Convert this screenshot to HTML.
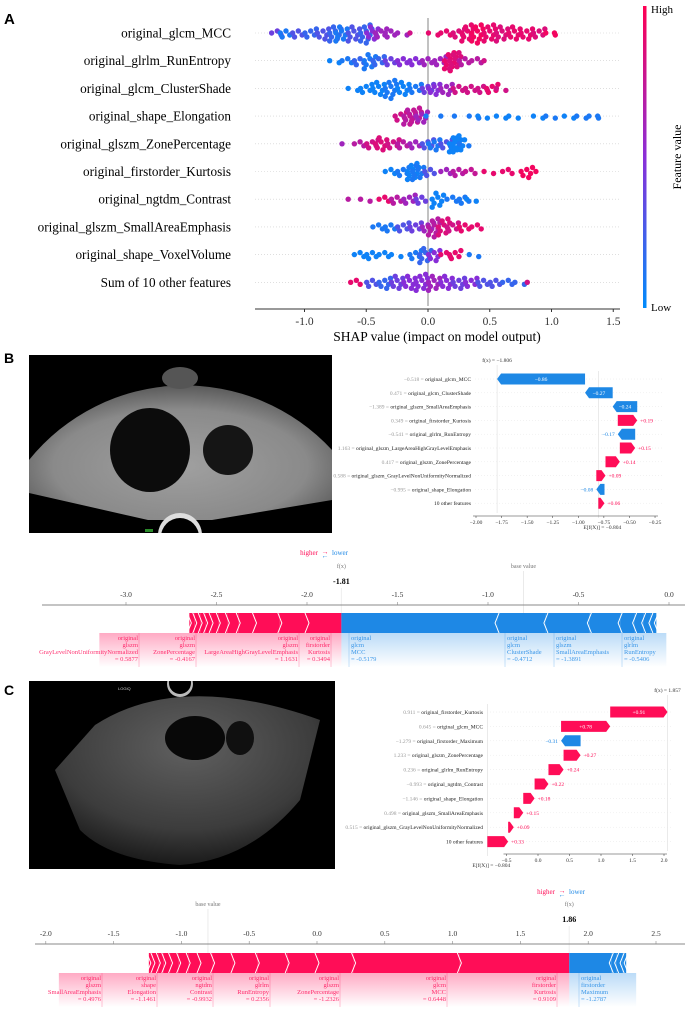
<!DOCTYPE html>
<html><head><meta charset="utf-8"><style>
html,body{margin:0;padding:0;background:#fff;}
svg{display:block;font-family:"Liberation Serif",serif;}
</style></head><body>
<svg id="fig" width="685" height="1009" viewBox="0 0 685 1009" xmlns="http://www.w3.org/2000/svg">
<defs>
<linearGradient id="cbar" x1="0" y1="1" x2="0" y2="0"><stop offset="0" stop-color="#008bfb"/><stop offset="0.5" stop-color="#8a2fd8"/><stop offset="1" stop-color="#ff0052"/></linearGradient>
<linearGradient id="pinkfade" x1="0" y1="0" x2="0" y2="1"><stop offset="0" stop-color="#ff0d57" stop-opacity="0.35"/><stop offset="1" stop-color="#ff0d57" stop-opacity="0"/></linearGradient>
<linearGradient id="bluefade" x1="0" y1="0" x2="0" y2="1"><stop offset="0" stop-color="#1e88e5" stop-opacity="0.3"/><stop offset="1" stop-color="#1e88e5" stop-opacity="0"/></linearGradient>
<radialGradient id="usg" cx="0.5" cy="0.6" r="0.6"><stop offset="0" stop-color="#a0a0a0"/><stop offset="0.7" stop-color="#8a8a8a"/><stop offset="1" stop-color="#5a5a5a"/></radialGradient>
<radialGradient id="usgc" cx="0.5" cy="0.3" r="0.7"><stop offset="0" stop-color="#606060"/><stop offset="0.7" stop-color="#3c3c3c"/><stop offset="1" stop-color="#1a1a1a"/></radialGradient>
<clipPath id="clipB"><rect x="29" y="355" width="303" height="178"/></clipPath>
</defs>

<!-- Panel A -->
<text x="4" y="24" font-family="Liberation Sans,sans-serif" font-size="15" font-weight="bold">A</text>
<g id="beeswarm"></g>
<rect x="643" y="6" width="3.5" height="302" fill="url(#cbar)"/>
<text x="651" y="13" font-size="11">High</text>
<text x="651" y="311" font-size="11">Low</text>
<text transform="translate(681,157) rotate(-90)" text-anchor="middle" font-size="12">Feature value</text>
<text x="437" y="341" text-anchor="middle" font-size="13.5">SHAP value (impact on model output)</text>

<!-- Panel B -->
<text x="4" y="363" font-family="Liberation Sans,sans-serif" font-size="14" font-weight="bold">B</text>
<g clip-path="url(#clipB)">
<rect x="29" y="355" width="303" height="178" fill="#000"/>
<path d="M29 460 A 200 200 0 0 1 332 450 L332 500 L212 520 L148 520 L29 493 Z" fill="url(#usg)"/>
<ellipse cx="150" cy="450" rx="40" ry="42" fill="#0c0c0c"/>
<ellipse cx="228" cy="450" rx="25" ry="25" fill="#151515"/>
<ellipse cx="180" cy="378" rx="18" ry="11" fill="#555"/>
<circle cx="180" cy="535" r="22" fill="#ddd"/>
<circle cx="180" cy="537" r="19" fill="#000"/>
<rect x="145" y="529" width="8" height="3" fill="#2a8a2a"/>
</g>
<g id="wfB"></g>
<g id="fpB"></g>

<!-- Panel C -->
<text x="4" y="695" font-family="Liberation Sans,sans-serif" font-size="14" font-weight="bold">C</text>
<g>
<rect x="29" y="681" width="306" height="188" fill="#000"/>
<path d="M95 725 Q180 670 320 720 L300 800 Q250 860 180 865 Q110 860 80 830 L55 770 Z" fill="url(#usgc)"/>
<circle cx="180" cy="684" r="13" fill="#bbb"/>
<circle cx="180" cy="683" r="11" fill="#000"/>
<rect x="160" y="670" width="40" height="11" fill="#fff"/>
<ellipse cx="195" cy="738" rx="30" ry="22" fill="#080808"/>
<ellipse cx="240" cy="738" rx="14" ry="17" fill="#101010"/>
<text x="118" y="690" fill="#ccc" font-size="4" font-family="Liberation Sans,sans-serif">LOGIQ</text>
</g>
<g id="wfC"></g>
<g id="fpC"></g>
</svg>
<script>
// ---------- Panel A data ----------
const beeFeatures = ["original_glcm_MCC","original_glrlm_RunEntropy","original_glcm_ClusterShade","original_shape_Elongation","original_glszm_ZonePercentage","original_firstorder_Kurtosis","original_ngtdm_Contrast","original_glszm_SmallAreaEmphasis","original_shape_VoxelVolume","Sum of 10 other features"];
const beeTicks = [-1.0,-0.5,0.0,0.5,1.0,1.5];
const beeTickLabels = ["-1.0","-0.5","0.0","0.5","1.0","1.5"];
// clusters: [shap value, point count, feature value 0..1]
const beeMCC = [[-1.22,3,.4],[-1.15,4,.1],[-1.05,4,.3],[-0.95,5,.2],[-0.85,6,.3],[-0.75,8,.2],[-0.7,8,.1],[-0.6,8,.3],[-0.5,10,.2],[-0.45,7,.5],[-0.38,5,.6],[-0.3,4,.6],[-0.2,2,.6],[-0.1,1,.8],[0.05,2,.9],[0.15,3,.9],[0.25,5,.85],[0.32,9,.9],[0.4,10,.95],[0.5,9,.9],[0.6,8,.85],[0.7,7,.9],[0.8,6,.9],[0.9,5,.85],[1.0,2,.95],[1.07,1,.95]];
const beeRunEntropy = [[-0.75,2,.05],[-0.65,3,.1],[-0.55,4,.2],[-0.47,8,.1],[-0.4,5,.2],[-0.3,4,.4],[-0.2,4,.5],[-0.1,4,.5],[0.0,4,.6],[0.1,5,.6],[0.18,10,.9],[0.22,9,.85],[0.3,4,.7],[0.4,3,.7],[0.5,1,.8]];
const beeClusterShade = [[-0.6,2,.05],[-0.5,5,.05],[-0.4,7,.05],[-0.3,10,.1],[-0.2,7,.05],[-0.1,5,.1],[0.0,5,.4],[0.05,6,.5],[0.15,6,.6],[0.25,4,.8],[0.35,4,.8],[0.45,4,.8],[0.52,5,.9],[0.6,2,.8]];
const beeElongation = [[-0.22,5,.8],[-0.15,8,.7],[-0.1,9,.75],[-0.05,6,.6],[0.03,1,.1],[0.15,1,.1],[0.26,1,.1],[0.38,2,.1],[0.45,2,.05],[0.6,2,.05],[0.7,2,.05],[0.9,2,.05],[1.0,2,.1],[1.15,2,.05],[1.25,2,.1],[1.35,2,.1],[1.42,1,.1]];
const beeZonePct = [[-0.65,1,.6],[-0.55,3,.7],[-0.45,5,.8],[-0.38,7,.85],[-0.28,5,.8],[-0.2,4,.7],[-0.1,4,.6],[0.0,5,.3],[0.05,6,.1],[0.15,5,.3],[0.22,9,.05],[0.25,8,.05],[0.3,2,.1]];
const beeKurtosis = [[-0.3,3,.05],[-0.2,5,.1],[-0.12,9,.05],[-0.08,8,.1],[0.02,4,.3],[0.15,3,.6],[0.25,4,.7],[0.35,3,.75],[0.5,2,.9],[0.65,3,.9],[0.8,6,.95],[0.92,1,.95]];
const beeContrast = [[-0.6,1,.7],[-0.5,2,.7],[-0.35,3,.9],[-0.25,4,.7],[-0.15,5,.6],[-0.05,4,.4],[0.08,8,.05],[0.2,3,.1],[0.3,4,.1],[0.36,2,.05]];
const beeSmallArea = [[-0.4,3,.1],[-0.3,4,.1],[-0.2,5,.3],[-0.1,5,.4],[0.0,5,.6],[0.05,10,.7],[0.13,9,.85],[0.2,5,.8],[0.3,4,.9],[0.4,3,.9]];
const beeVoxel = [[-0.55,3,.05],[-0.45,4,.05],[-0.35,3,.05],[-0.25,2,.05],[-0.1,5,.1],[-0.02,8,.2],[0.05,6,.5],[0.15,3,.9],[0.22,5,.9],[0.38,2,.1]];
const beeSum10 = [[-0.58,3,.9],[-0.45,4,.3],[-0.35,6,.2],[-0.25,7,.4],[-0.15,7,.5],[-0.05,9,.5],[0.05,8,.6],[0.15,7,.5],[0.25,6,.4],[0.35,5,.5],[0.45,4,.3],[0.55,4,.3],[0.65,3,.2],[0.75,2,.2],[0.85,1,.8]];
const beeData = [beeMCC,beeRunEntropy,beeClusterShade,beeElongation,beeZonePct,beeKurtosis,beeContrast,beeSmallArea,beeVoxel,beeSum10];

// ---------- Panel B data ----------
const wfBNames = ["original_glcm_MCC","original_glcm_ClusterShade","original_glszm_SmallAreaEmphasis","original_firstorder_Kurtosis","original_glrlm_RunEntropy","original_glszm_LargeAreaHighGrayLevelEmphasis","original_glszm_ZonePercentage","original_glszm_GrayLevelNonUniformityNormalized","original_shape_Elongation","10 other features"];
const wfBFeatVals = ["\u22120.518","0.471","\u22121.389","0.349","\u22120.541","1.163","0.417","0.588","\u22120.995",""];
const wfBContrib = [-0.86,-0.27,-0.24,0.19,-0.17,0.15,0.14,0.09,-0.08,0.06];
const wfBTicks = [-2.0,-1.75,-1.5,-1.25,-1.0,-0.75,-0.5,-0.25];
const wfBTickLabels = ["\u22122.00","\u22121.75","\u22121.50","\u22121.25","\u22121.00","\u22120.75","\u22120.50","\u22120.25"];
const baseB = -0.804;
const fpBRed = [0.19,0.15,0.14,0.09,0.06,0.05,0.04,0.03,0.03,0.03,0.03];
const fpBBlue = [0.86,0.27,0.24,0.17,0.08,0.05,0.04,0.03];
const fpBTicks = [-3.0,-2.5,-2.0,-1.5,-1.0,-0.5,0.0];
const fpBTickLabels = ["-3.0","-2.5","-2.0","-1.5","-1.0","-0.5","0.0"];
const fxB = -1.81;

// ---------- Panel C data ----------
const wfCNames = ["original_firstorder_Kurtosis","original_glcm_MCC","original_firstorder_Maximum","original_glszm_ZonePercentage","original_glrlm_RunEntropy","original_ngtdm_Contrast","original_shape_Elongation","original_glszm_SmallAreaEmphasis","original_glszm_GrayLevelNonUniformityNormalized","10 other features"];
const wfCFeatVals = ["0.911","0.645","\u22121.279","1.233","0.236","\u22120.993","\u22121.146","0.498","0.515",""];
const wfCContrib = [0.91,0.78,-0.31,0.27,0.24,0.22,0.18,0.15,0.09,0.33];
const wfCTicks = [-0.5,0.0,0.5,1.0,1.5,2.0];
const wfCTickLabels = ["\u22120.5","0.0","0.5","1.0","1.5","2.0"];
const baseC = -0.804;
const fpCRed = [0.81,0.78,0.27,0.22,0.22,0.18,0.15,0.1,0.08,0.07,0.06,0.05,0.04,0.04,0.03];
const fpCBlue = [0.31,0.04,0.04,0.03];
const fpCTicks = [-2.0,-1.5,-1.0,-0.5,0.0,0.5,1.0,1.5,2.0,2.5];
const fpCTickLabels = ["-2.0","-1.5","-1.0","-0.5","0.0","0.5","1.0","1.5","2.0","2.5"];
const fxC = 1.86;

const NS = "http://www.w3.org/2000/svg";
function mk(tag, attrs, parent, text){
  const e = document.createElementNS(NS, tag);
  for (const k in attrs) e.setAttribute(k, attrs[k]);
  if (text !== undefined) e.textContent = text;
  parent.appendChild(e);
  return e;
}
function fvColor(t){
  const a=[0,139,251], m=[135,45,215], b=[255,0,82];
  let c;
  if (t<0.5){const u=t/0.5; c=a.map((v,i)=>Math.round(v+(m[i]-v)*u));}
  else {const u=(t-0.5)/0.5; c=m.map((v,i)=>Math.round(v+(b[i]-v)*u));}
  return "rgb("+c.join(",")+")";
}

// ---------- Beeswarm ----------
(function(){
  const g = document.getElementById("beeswarm");
  const xS = v => 428 + v*123.5;
  const rowY = i => 33 + i*27.7;
  beeFeatures.forEach((f,i)=>{
    const y=rowY(i);
    const gl = mk("line",{x1:255,x2:620,y1:y,y2:y,stroke:"#ccc","stroke-width":0.6,"stroke-dasharray":"1,2"},g);
    
    
    const t = mk("text",{x:231,y:y+4.5,"text-anchor":"end","font-size":13.2},g,f);
    
    
  });
  const zl = mk("line",{x1:428,x2:428,y1:18,y2:306,stroke:"#999","stroke-width":1.2},g);
  
  
  beeData.forEach((clusters,i)=>{
    const y=rowY(i);
    clusters.forEach(c=>{
      const n=c[1];
      for(let k=0;k<n;k++){
        const dy=((k%2)?1:-1)*Math.floor((k+1)/2)*2.0;
        const dx=(((k*5)%7)-3)*1.9;
        const d = mk("circle",{cx:xS(c[0])+dx,cy:y+dy,r:2.7,fill:fvColor(c[2])},g);
        
        
      }
    });
  });
  const ax = mk("line",{x1:255,x2:620,y1:309,y2:309,stroke:"#333","stroke-width":1},g);
  
  
  beeTicks.forEach((v,i)=>{
    mk("line",{x1:xS(v),x2:xS(v),y1:309,y2:312,stroke:"#333"},g);
    const t = mk("text",{x:xS(v),y:325,"text-anchor":"middle","font-size":11.5,fill:"#333"},g,beeTickLabels[i]);
    
    
  });
})();

// ---------- Waterfall ----------
function waterfall(gid, names, fvals, contrib, base, xS, y0, dy, labelX, ticks, tickLabels, axisY, fx, fxLabelY, fxText, baseText){
  const g=document.getElementById(gid);
  const n=names.length;
  const starts=new Array(n);
  let cur=base;
  for(let i=n-1;i>=0;i--){starts[i]=cur; cur+=contrib[i];}
  const fxv=cur;
  mk("line",{x1:xS(fxv),x2:xS(fxv),y1:fxLabelY+3,y2:axisY-3,stroke:"#ddd","stroke-width":0.6},g);
  mk("line",{x1:xS(base),x2:xS(base),y1:y0-8,y2:axisY+2,stroke:"#ddd","stroke-width":0.6},g);
  for(let i=0;i<n;i++){
    const y=y0+i*dy;
    const gl = mk("line",{x1:labelX+4,x2:xS(ticks[ticks.length-1])+8,y1:y,y2:y,stroke:"#e6e6e6","stroke-width":0.5,"stroke-dasharray":"1,2"},g);
    
    
    const lt = mk("text",{x:labelX,y:y+2,"text-anchor":"end","font-size":5.5,fill:"#222"},g);
    if(fvals[i]){mk("tspan",{fill:"#999"},lt,fvals[i]+" = ");}
    mk("tspan",{},lt,names[i]);
    
    
    const a=xS(starts[i]), b=xS(starts[i]+contrib[i]);
    const h=11, top=y-h/2, pos=contrib[i]>0;
    const tip=Math.min(4,Math.abs(b-a));
    let pts;
    if(pos) pts=[[a,top],[b-tip,top],[b,y],[b-tip,top+h],[a,top+h]];
    else pts=[[a,top],[b+tip,top],[b,y],[b+tip,top+h],[a,top+h]];
    const bar = mk("polygon",{points:pts.map(p=>p.join(",")).join(" "),fill:pos?"#ff0d57":"#1e88e5"},g);
    
    
    const txt=(contrib[i]>0?"+":"\u2212")+Math.abs(contrib[i]).toFixed(2);
    const w=Math.abs(b-a);
    let vt;
    if(w>22) vt=mk("text",{x:(a+b)/2,y:y+2,"text-anchor":"middle","font-size":5.5,fill:"#fff"},g,txt);
    else if(pos) vt=mk("text",{x:b+3,y:y+2,"font-size":5.5,fill:"#ff0d57"},g,txt);
    else vt=mk("text",{x:b-3,y:y+2,"text-anchor":"end","font-size":5.5,fill:"#1e88e5"},g,txt);
    
    
  }
  const ax=mk("line",{x1:xS(ticks[0])-3,x2:xS(ticks[ticks.length-1])+3,y1:axisY,y2:axisY,stroke:"#333","stroke-width":0.6},g);
  
  
  ticks.forEach((v,i)=>{
    mk("line",{x1:xS(v),x2:xS(v),y1:axisY,y2:axisY+2,stroke:"#333","stroke-width":0.5},g);
    const t=mk("text",{x:xS(v),y:axisY+8,"text-anchor":"middle","font-size":5.5,fill:"#333"},g,tickLabels[i]);
    
    
  });
  const ft=mk("text",{x:xS(fxv),y:fxLabelY,"text-anchor":"middle","font-size":5.5,fill:"#333"},g,fxText);
  
  
  const bt=mk("text",{x:xS(base)+4,y:axisY+13,"text-anchor":"middle","font-size":5.5,fill:"#333"},g,baseText);
  
  
}
waterfall("wfB",wfBNames,wfBFeatVals,wfBContrib,baseB,v=>476+(v+2)*102.3,379,13.8,471,wfBTicks,wfBTickLabels,516,null,362,"f(x) = \u22121.806","E[f(X)] = \u22120.804");
waterfall("wfC",wfCNames,wfCFeatVals,wfCContrib,baseC,v=>538+63*v,712,14.4,483,wfCTicks,wfCTickLabels,854,null,692,"f(x) = 1.857","E[f(X)] = \u22120.804");

// ---------- Force plots ----------
function forcePlot(gid, xS, fx, base, red, blue, ticks, tickLabels, axisX0, axisY, barY, barH, legendX, legendY, fxLabelY, labels){
  const g=document.getElementById(gid);
  const lh=mk("text",{x:legendX,y:legendY,"text-anchor":"end","font-size":7,fill:"#ff0d57"},g,"higher");
  
  
  mk("text",{x:legendX+7,y:legendY-1,"text-anchor":"middle","font-size":7,fill:"#ff0d57"},g,"\u2192");
  mk("text",{x:legendX+7,y:legendY+3,"text-anchor":"middle","font-size":7,fill:"#1e88e5"},g,"\u2190");
  const ll=mk("text",{x:legendX+14,y:legendY,"font-size":7,fill:"#1e88e5"},g,"lower");
  
  
  const fl=mk("text",{x:xS(fx),y:fxLabelY,"text-anchor":"middle","font-size":6,fill:"#777"},g,"f(x)");
  
  
  const bl=mk("text",{x:xS(base),y:fxLabelY,"text-anchor":"middle","font-size":6,fill:"#777"},g,"base value");
  
  
  mk("line",{x1:xS(base),x2:xS(base),y1:fxLabelY+3,y2:axisY+10,stroke:"#ddd","stroke-width":0.6},g);
  mk("line",{x1:xS(fx),x2:xS(fx),y1:fxLabelY+20,y2:barY+2,stroke:"#eee","stroke-width":1},g);
  const fv=mk("text",{x:xS(fx),y:fxLabelY+16,"text-anchor":"middle","font-size":8,"font-weight":"bold",fill:"#000"},g,fx.toFixed(2));
  
  
  const ax=mk("line",{x1:axisX0,x2:685,y1:axisY,y2:axisY,stroke:"#888","stroke-width":1},g);
  
  
  ticks.forEach((v,i)=>{
    mk("line",{x1:xS(v),x2:xS(v),y1:axisY-3,y2:axisY,stroke:"#888","stroke-width":0.6},g);
    const t=mk("text",{x:xS(v),y:axisY-8,"text-anchor":"middle","font-size":7.5,fill:"#333"},g,tickLabels[i]);
    
    
  });
  let cur=fx; const redB=[];
  red.forEach(v=>{const a=cur-v;
    const r=mk("rect",{x:xS(a),y:barY,width:xS(cur)-xS(a),height:barH,fill:"#ff0d57"},g);
    
    
    redB.push(a); cur=a;});
  const redEnd=cur;
  cur=fx; const blueB=[];
  blue.forEach(v=>{const b=cur+v;
    const r=mk("rect",{x:xS(cur),y:barY,width:xS(b)-xS(cur),height:barH,fill:"#1e88e5"},g);
    
    
    blueB.push(b); cur=b;});
  const blueEnd=cur;
  const m=barY+barH/2;
  redB.forEach(a=>{const x=xS(a);mk("polyline",{points:`${x-2},${barY} ${x+2},${m} ${x-2},${barY+barH}`,fill:"none",stroke:"#fff","stroke-width":1},g);});
  blueB.forEach(b=>{const x=xS(b);mk("polyline",{points:`${x+2},${barY} ${x-2},${m} ${x+2},${barY+barH}`,fill:"none",stroke:"#fff","stroke-width":1},g);});
  mk("rect",{x:xS(redEnd)-90,y:barY+barH,width:xS(fx)-xS(redEnd)+90,height:34,fill:"url(#pinkfade)"},g);
  mk("rect",{x:xS(fx),y:barY+barH,width:xS(blueEnd)-xS(fx)+10,height:34,fill:"url(#bluefade)"},g);
  labels.forEach(L=>{
    const col=L.red?"#ff0d57":"#1e88e5";
    const t=mk("text",{x:L.x,y:barY+barH+7,"text-anchor":L.red?"end":"start","font-size":6.5,fill:col,opacity:0.85},g);
    L.lines.forEach((s,k)=>mk("tspan",{x:L.x,dy:k?7:0},t,s));
    
    
    mk("line",{x1:L.x+(L.red?1:-2),x2:L.x+(L.red?1:-2),y1:barY+barH,y2:barY+barH+34,stroke:col,"stroke-width":0.4,opacity:0.6},g);
  });
}
forcePlot("fpB",v=>669+181*v,fxB,baseB,fpBRed,fpBBlue,fpBTicks,fpBTickLabels,42,605,613,20,318,555,568,[
 {red:true,x:138,lines:["original","glszm","GrayLevelNonUniformityNormalized","= 0.5877"]},
 {red:true,x:195,lines:["original","glszm","ZonePercentage","= -0.4167"]},
 {red:true,x:298,lines:["original","glszm","LargeAreaHighGrayLevelEmphasis","= 1.1631"]},
 {red:true,x:330,lines:["original","firstorder","Kurtosis","= 0.3494"]},
 {red:false,x:351,lines:["original","glcm","MCC","= -0.5179"]},
 {red:false,x:507,lines:["original","glcm","ClusterShade","= -0.4712"]},
 {red:false,x:556,lines:["original","glszm","SmallAreaEmphasis","= -1.3891"]},
 {red:false,x:624,lines:["original","glrlm","RunEntropy","= -0.5406"]}
]);
forcePlot("fpC",v=>317+135.6*v,fxC,baseC,fpCRed,fpCBlue,fpCTicks,fpCTickLabels,35,944,953,20,555,894,906,[
 {red:true,x:101,lines:["original","glszm","SmallAreaEmphasis","= 0.4976"]},
 {red:true,x:156,lines:["original","shape","Elongation","= -1.1461"]},
 {red:true,x:212,lines:["original","ngtdm","Contrast","= -0.9932"]},
 {red:true,x:269,lines:["original","glrlm","RunEntropy","= 0.2356"]},
 {red:true,x:339,lines:["original","glszm","ZonePercentage","= -1.2326"]},
 {red:true,x:446,lines:["original","glcm","MCC","= 0.6448"]},
 {red:true,x:556,lines:["original","firstorder","Kurtosis","= 0.9109"]},
 {red:false,x:581,lines:["original","firstorder","Maximum","= -1.2787"]}
]);
</script>
</body></html>
